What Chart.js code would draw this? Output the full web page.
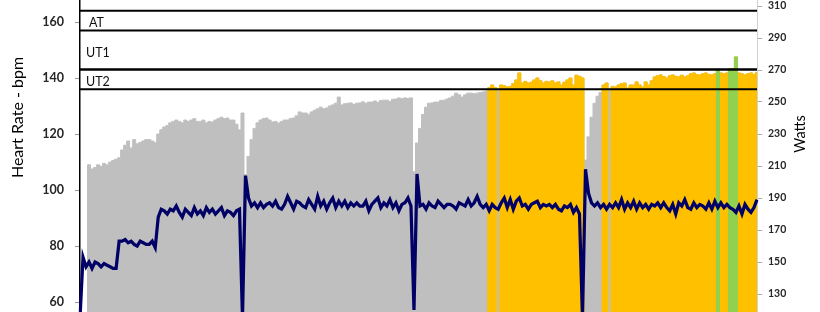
<!DOCTYPE html>
<html>
<head>
<meta charset="utf-8">
<script src="https://cdn.jsdelivr.net/npm/chart.js@4.4.1/dist/chart.umd.min.js"></script>
<style>
  html, body { margin: 0; padding: 0; background: #fff; }
  #wrap { width: 820px; height: 312px; }
</style>
</head>
<body>
<div id="wrap"><canvas id="hrChart"></canvas></div>
<script>
// heart rate (bpm), one sample every ~3 px of the session
const heartRate = [
  0, 0, 0, 109, 107.5, 108, 109, 108.5, 109.5, 109,
  110, 110.5, 111, 111.5, 114.3, 116, 117.5, 115, 118, 116.5,
  117, 117.5, 118, 118, 117.5, 117, 120, 121.5, 122.5, 123,
  124, 124.5, 125, 124.5, 124, 125, 124.5, 125, 125.5, 124.5,
  124.5, 125, 124, 124.5, 124.3, 125, 125.5, 126, 125.5, 125.7,
  125, 125, 123.5, 121.5, 127.5, 105.5, 112, 118, 122, 124,
  125, 125.5, 125.7, 125, 124.3, 124.5, 123.9, 124.5, 125, 125,
  125.5, 125.7, 126.5, 127.9, 127.5, 127.5, 127, 127.9, 128.5, 129,
  129.6, 129, 129.3, 130, 130.4, 131, 133.2, 130.4, 130.8, 131,
  131.1, 130.6, 131, 131.1, 131.5, 131, 131.4, 131.4, 131.8, 131.3,
  132, 132.1, 132.1, 131.6, 132.4, 132.5, 132.9, 132.6, 132.9, 132.7,
  132.9, 106.5, 116.8, 122, 127, 129.6, 131, 131.1, 131.4, 131.4,
  132, 132.1, 132.5, 132.9, 133.5, 134.6, 134, 133.2, 134, 134.6,
  134.6, 134.4, 134.6, 134.8, 135, 135.3, 136.5, 137.5, 136.6, 135.6,
  137.5, 137.2, 136.8, 137, 138, 139.3, 141.8, 138.2, 138.8, 138.2,
  138.5, 139.3, 140, 139, 138.2, 138.8, 138.6, 139, 138.2, 138.6,
  137.5, 138.5, 139.3, 140, 137.5, 141, 140.6, 140, 110.7, 119,
  126, 131, 133.5, 134.8, 137.5, 138.2, 135.5, 137, 136.8, 137.5,
  138, 138.2, 136.4, 137.5, 137.5, 138.6, 137.5, 136.8, 138.6, 137.5,
  139, 140.4, 140.8, 141.1, 140.5, 140, 140.8, 141.1, 140.6, 140.4,
  141, 140.4, 140.8, 141.5, 141.8, 141.2, 141.1, 141.5, 141.8, 141.3,
  141.1, 141.5, 143.1, 141.8, 141.5, 141.8, 143.2, 143.4, 147.5, 141.8,
  141.5, 141.1, 141.5, 141.8, 141.3, 142
];

// power (W), same samples
const watts = [
  115, 153, 147, 150, 146, 150, 149, 147, 149, 148,
  147, 146, 146, 163, 163, 164, 162, 163, 161, 160,
  163, 162, 161, 161, 163, 159, 178, 183, 182, 180,
  183, 182, 185, 181, 178, 183, 181, 179, 184, 180,
  182, 179, 184, 181, 183, 180, 182, 184, 179, 182,
  181, 179, 182, 183, 115, 204, 190, 185, 187, 184,
  187, 184, 186, 187, 185, 188, 184, 183, 186, 191,
  187, 183, 188, 187, 185, 184, 189, 186, 183, 191,
  185, 188, 183, 187, 190, 184, 188, 185, 188, 184,
  187, 185, 187, 185, 185, 188, 182, 186, 188, 190,
  184, 187, 185, 189, 184, 187, 182, 186, 187, 190,
  185, 120, 205, 185, 186, 183, 187, 185, 184, 188,
  186, 184, 186, 186, 185, 183, 187, 186, 185, 189,
  185, 187, 191, 186, 184, 186, 182, 186, 184, 183,
  187, 190, 184, 189, 183, 188, 190, 185, 186, 183,
  186, 187, 188, 184, 186, 185, 186, 184, 186, 183,
  182, 185, 184, 186, 181, 184, 180, 115, 208, 193,
  187, 185, 187, 184, 186, 183, 186, 184, 187, 184,
  189, 183, 187, 184, 188, 183, 187, 184, 186, 183,
  186, 185, 187, 184, 187, 184, 182, 186, 180, 187,
  185, 189, 184, 183, 187, 184, 186, 185, 183, 187,
  183, 188, 184, 187, 184, 186, 184, 183, 181, 185,
  180, 186, 183, 181, 184, 189
];

// training zone boundaries (bpm), top to bottom
const zoneLines = [164, 157, 143, 136];
const zoneNames = ['AT', 'UT1', 'UT2'];
const ut1Floor = 143;
const ut2Floor = 136;

const hrTicks = [60, 80, 100, 120, 140, 160];
const wattTicks = [130, 150, 170, 190, 210, 230, 250, 270, 290, 310];

const samples = heartRate.map((_, i) => i);
const ut2Band = heartRate.map(v => (v >= ut2Floor ? v : 0));
const ut1Band = heartRate.map(v => (v >= ut1Floor ? v : 0));

const zonePlugin = {
    id: 'zones',
    afterDatasetsDraw(chart) {
        const { ctx, chartArea: area, scales: { y } } = chart;
        ctx.save();
        ctx.strokeStyle = '#000';
        zoneLines.forEach(v => {
            const py = y.getPixelForValue(v);
            ctx.lineWidth = v === ut1Floor ? 2.5 : 2;
            ctx.beginPath();
            ctx.moveTo(area.left, py);
            ctx.lineTo(area.right, py);
            ctx.stroke();
        });
        ctx.fillStyle = '#111';
        ctx.font = '12.5px Lato';
        ctx.textBaseline = 'alphabetic';
        zoneNames.forEach((name, k) => {
            const mid = y.getPixelForValue((zoneLines[k] + zoneLines[k + 1]) / 2);
            ctx.fillText(name, area.left + (k === 0 ? 9 : 6), mid + 6.5);
        });
        ctx.restore();
    },
    afterDraw(chart) {
        const ctx = chart.ctx;
        ctx.save();
        ctx.fillStyle = '#000';
        ctx.textAlign = 'center';
        ctx.textBaseline = 'alphabetic';
        ctx.font = '16px Lato';
        ctx.translate(23, 117.5);
        ctx.rotate(-Math.PI / 2);
        ctx.fillText('Heart Rate - bpm', 0, 0);
        ctx.restore();

        ctx.save();
        ctx.fillStyle = '#000';
        ctx.textAlign = 'center';
        ctx.textBaseline = 'alphabetic';
        ctx.font = '14.5px Lato';
        ctx.translate(805, 134);
        ctx.rotate(-Math.PI / 2);
        ctx.fillText('Watts', 0, 0);
        ctx.restore();
    }
};

// filled, stepped area on the heart-rate axis
function band(label, data, color, order) {
    return {
        label: label,
        data: data,
        yAxisID: 'y',
        stepped: 'middle',
        fill: 'origin',
        backgroundColor: color,
        borderColor: color,
        borderWidth: 1,
        order: order
    };
}

new Chart(document.getElementById('hrChart'), {
    type: 'line',
    data: {
        labels: samples,
        datasets: [
            {
                label: 'Watts',
                data: watts,
                yAxisID: 'y1',
                borderColor: '#000066',
                borderWidth: 3.25,
                fill: false,
                order: 0
            },
            band('UT1', ut1Band, '#92D050', 1),
            band('UT2', ut2Band, '#FFC000', 2),
            band('Heart Rate', heartRate, '#BFBFBF', 3)
        ]
    },
    options: {
        responsive: true,
        maintainAspectRatio: false,
        animation: false,
        events: [],
        layout: { padding: 0 },
        elements: { point: { radius: 0 }, line: { tension: 0 } },
        plugins: { legend: { display: false }, tooltip: { enabled: false } },
        scales: {
            x: { display: false },
            y: {
                position: 'left',
                min: 56.43,
                max: 167.86,
                afterBuildTicks: s => { s.ticks = hrTicks.map(v => ({ value: v })); },
                afterFit: s => { s.width = 80; s.paddingTop = 0; s.paddingBottom = 0; },
                grid: { drawOnChartArea: false, tickLength: 5, color: '#999' },
                border: { color: '#000', width: 1.5 },
                ticks: {
                    padding: 11,
                    color: '#262626',
                    font: { family: 'Lato', size: 12.5, weight: 'bold' }
                }
            },
            y1: {
                position: 'right',
                min: 118.75,
                max: 313.75,
                afterBuildTicks: s => { s.ticks = wattTicks.map(v => ({ value: v })); },
                afterFit: s => { s.width = 63; s.paddingTop = 0; s.paddingBottom = 0; },
                grid: { drawOnChartArea: false, tickLength: 5, color: '#aaa' },
                border: { color: '#d0d0d0', width: 1 },
                ticks: {
                    padding: 6,
                    color: '#262626',
                    font: { family: 'Lato', size: 10.5, weight: 'bold' }
                }
            }
        }
    },
    plugins: [zonePlugin]
});
</script>
</body>
</html>
